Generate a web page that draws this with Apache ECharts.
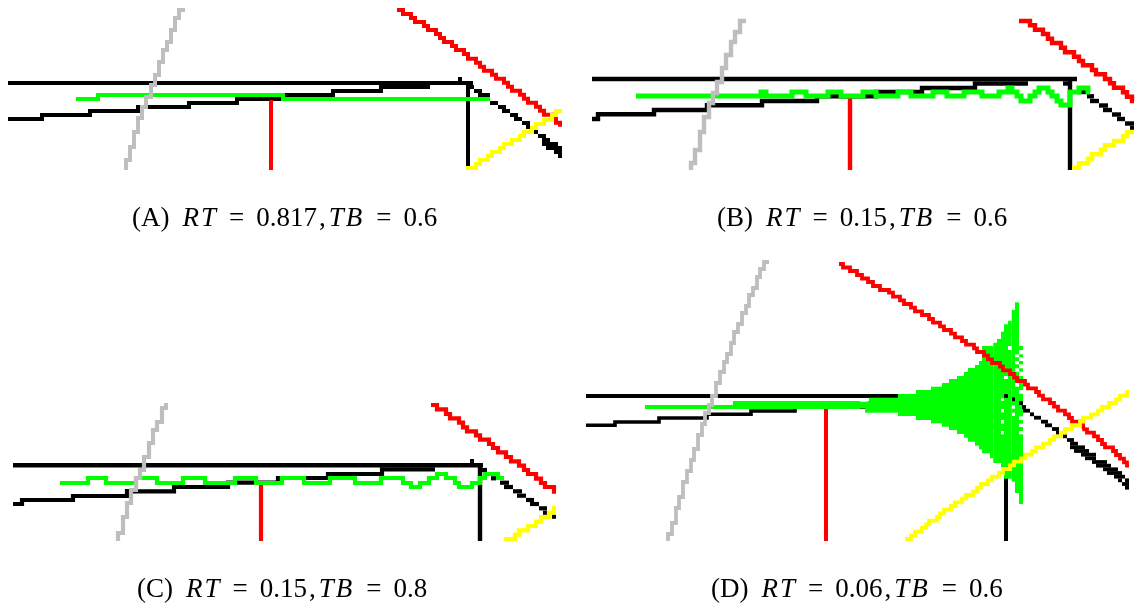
<!DOCTYPE html>
<html><head><meta charset="utf-8">
<style>html,body{margin:0;padding:0;background:#fff}#c{width:1136px;height:608px}</style>
<script src="https://cdn.jsdelivr.net/npm/echarts@6/dist/echarts.min.js"></script>
</head><body><div id="c"></div>
<script>
const labelsPlain = ['(A)', '(B)', '(C)', '(D)'];
const rtValues = ['0.817', '0.15', '0.15', '0.06'];
const tbValues = ['0.6', '0.6', '0.8', '0.6'];

// Panel A
const aTop = [[8,83],[473,83]];
const aStairs = [[8,119],[42,115],[90,111],[138,107],[189,103],[237,99],[283,95],[333,91],[381,87],[430,87]];
const aBump = [[458,462,77,81]];
const aVertBlack = [[468,83],[468,168]];
const aVertRed = [[271,100],[271,170]];
const aGreen = [[76,99],[98,95],[283,99],[490,99]];
const aRed = [[397,10],[403,14],[411,18],[415,22],[424,26],[428,30],[436,34],[440,38],[444,42],[452,46],[456,50],[464,54],[468,58.7],[476,62.7],[480,66.7],[484,70.7],[492,74.7],[496,78.7],[504,82.7],[508,86.7],[512,90.7],[520,94.7],[524,98.7],[528,102.7],[536,106.7],[540,110.7],[544,114.7],[552,118.7],[556,122.7],[560,126.7]];
const aYellow = [[466,168],[476,164],[480,160],[488,156],[492,152],[500,148],[504,144],[512,140],[520,136],[524,132],[532,128],[536,124],[544,120],[552,115],[556,111],[562,111]];
const aGray = [[126,170],[130,160],[134,147],[138,132],[142,118],[146,107],[151,97],[155,85],[159,75],[163,62],[167,50],[171,42],[175,30],[179,18],[185,10]];
const aDiag = [[468,474,87],[474,482,91],[478,490,95],[490,498,103],[498,506,107],[502,510,111],[510,518,115],[514,522,119],[522,530,123],[526,530,127],[534,538,132],[538,546,136],[542,550,140],[542,558,144],[546,562,148],[554,562,152],[558,562,156]];

// Panel B
const bTop = [[592,79],[1077,79]];
const bStairs = [[592,119],[598,114.3],[654,110],[707,105.3],[762,101],[817,96.3],[876,92],[922,88],[975,83.5],[1028,83.5]];
const bVertBlack = [[1070,79],[1070,170]];
const bVertRed = [[850,97],[850,170]];
const bGreen = [[636,96],[761,92],[766,96],[792,92],[806,96],[828,92],[841,96],[863,92],[876,96],[898,92],[911,96],[933,92],[947,96],[964,92],[982,96],[999,92],[1008,88],[1012,92],[1017,96],[1021,101],[1030,96],[1035,92],[1039,88],[1048,92],[1052,96],[1057,101],[1061,105],[1070,92],[1079,88],[1088,92],[1090,92]];
const bRed = [[1019,21],[1030,25.3],[1035,29.7],[1043,34],[1048,38.7],[1052,43],[1061,47.7],[1065,52.3],[1074,56.7],[1079,61],[1083,65.3],[1092,70],[1096,74.3],[1105,79],[1110,83.3],[1114,87.7],[1123,92.3],[1127,96.7],[1132,101],[1134,101]];
const bYellow = [[1072,167.7],[1079,163.3],[1088,158.7],[1092,154.3],[1101,149.7],[1105,145.3],[1114,141],[1123,136.3],[1127,132],[1134,132]];
const bGray = [[691,170],[695,163],[700,150],[704,132],[709,117],[713,103],[717,93],[722,82],[726,68],[731,55],[735,42],[740,32],[746,21]];
const bDiag = [[1063,1072,83.5],[1068,1072,88],[1077,1087,92],[1087,1094,96.3],[1090,1099,101],[1099,1108,105.5],[1103,1112,110],[1112,1121,114.5],[1117,1125,119],[1125,1134,123.5],[1130,1134,128]];

// Panel C
const cTop = [[13,465.3],[483,465.3]];
const cStairs = [[13,504],[22,500],[73,496],[127,491.3],[174,487],[228,482.7],[278,478],[328,474],[382,469.3],[435,469.3]];
const cBump = [[470,474,459,463],[125,129,489,494]];
const cVertBlack = [[480,465],[480,541]];
const cVertRed = [[261,485],[261,541]];
const cGreen = [[60,483],[88,478],[106,483],[136,478],[157,483],[183,478],[205,483],[235,478],[256,483],[282,478],[304,483],[330,478],[355,483],[381,478],[403,483],[411,487],[420,483],[429,478],[437,474],[446,478],[455,483],[459,487],[472,483],[480,478],[485,474],[498,478],[504,478]];
const cRed = [[431,405],[437,409.3],[446,414],[450,418.3],[459,422.7],[463,427.3],[467,431.3],[476,435.3],[480,439.7],[489,444],[493,448],[498,452.3],[506,457],[511,461.3],[519,465.7],[524,470],[528,474],[536,478.7],[541,483],[545,487],[554,491.7],[556,491.7]];
const cYellow = [[504,539],[515,534.7],[519,530.3],[528,526],[536,521.7],[541,517],[549,512.7],[554,508],[556,508]];
const cGray = [[118,541],[123,533],[127,517],[131,503],[136,490],[140,478],[144,470],[149,457],[153,443],[157,430],[162,422],[166,408],[168,405]];
const cDiag = [[478,487,470],[491,496,478.3],[500,509,482.7],[504,513,487],[513,522,491.3],[517,526,495.7],[526,534,500],[530,539,504],[539,547,508.3],[543,547,512.7],[552,556,516.7]];

// Panel D
const dTop = [[586,396],[905,396]];
const dStairs = [[586,425.3],[615,422],[659,418],[707,414.3],[751,411],[795,407],[870,403],[900,403]];
const dVertBlack = [[1006,396],[1006,541]];
const dVertRed = [[826,409],[826,541]];
const dGreenBands = [[645,733,405,409],[733,860,401,409],[860,865,401.7,408.3],[865,869,401.7,412.7],[869,898,397.7,412.7],[898,916,394,416],[916,931,390,420],[931,942,386.7,423.3],[942,949,383,426.7],[949,957,379,430],[957,964,376,434],[964,968,372,437.7],[968,975,368,441.7],[975,979,365,445.7],[979,982,361,449.3],[982,990,346,453.3],[990,993.3,346,458.3],[993.3,997,342.7,463],[997,1001,339,463],[1001,1004,331.7,467.7],[1004,1008,324.3,478.7],[1008,1011.7,320.7,478.7],[1011.7,1015,310,481.7],[1015,1019,302.3,493],[1019,1023,346,504]];
const dGreenHoles = [[1008,1011.7,346,350],[1015,1019,354.3,357.3],[1015,1019,361,364.3],[1015,1019,368.3,371.7],[1004,1008,376,379],[1015,1019,383,386.7],[1001,1004,398.3,401],[1012,1015,405.3,408.7],[1001,1004,409,412.3],[1012,1015,412.7,416],[1001,1004,420,423.7],[1001,1004,431,434.3],[1019,1023,350,354.3],[1019,1023,357.3,361],[1019,1023,364.3,368.3],[1019,1023,371.7,376],[1019,1023,390,393.7],[1019,1023,416.3,420],[1019,1023,423.7,427],[1019,1023,431,434.3]];
const dRed = [[839,264],[843,267.5],[850,271],[857,275],[862,278.5],[868,282],[873,286],[880,290],[889,292.7],[893,296.7],[900,300.3],[904,304],[911,307.7],[915,311.3],[922,315],[929,319],[933,322.7],[940,326.3],[944,330],[951,333.7],[955,337.3],[962,341],[966,344.7],[974,348.3],[977,352],[984,355.7],[988,359.3],[992,363],[1000,366.7],[1003,370.3],[1010,374],[1014,377.7],[1017,381],[1025,384.7],[1028,388.3],[1036,392],[1039,395.7],[1043,399.3],[1050,403],[1054,406.7],[1058,410.7],[1065,414.3],[1069,418],[1072,421.7],[1083,425.7],[1084,429.3],[1087,432.7],[1094,436.3],[1098,440],[1102,444],[1105,447.3],[1113,451],[1116,455],[1120,458.7],[1124,462.3],[1127,465.7],[1129,465.7]];
const dYellow = [[905,539],[911,535.3],[915,531.7],[922,528],[926,524.3],[929,520.7],[937,517],[940,513.3],[944,509.7],[951,506],[955,502.3],[962,498.7],[966,495],[973,491.3],[977,487.7],[981,484],[988,480.3],[992,476.7],[999,472.7],[1003,469],[1010,465.3],[1014,461.7],[1021,458.3],[1025,454.7],[1032,451],[1036,447.3],[1043,443.7],[1050,440],[1054,436.3],[1061,432.7],[1065,429],[1072,425.3],[1080,421.7],[1083,417.7],[1091,414.3],[1098,410.7],[1102,407],[1109,403],[1116,399.3],[1120,395.7],[1127,392],[1129,392]];
const dGray = [[668,541],[672,534],[676,523],[679,508],[683,497],[687,482],[691,471],[694,460],[698,449],[702,435],[705,424],[709,413],[712,405],[716,396],[720,383],[724,372],[727,362],[731,354],[734,343],[738,332],[742,324],[746,313],[749,306],[753,295],[757,288],[760,277],[764,269],[769,262]];
const dDiag = [[1004,1008,396],[1012,1015,399.3],[1019,1023,403],[1022,1026,407],[1023,1030,410.7],[1030,1034,414.3],[1034,1041,417.7],[1041,1048,421.7],[1045,1052,425.3],[1052,1059,429],[1056,1059,432.7],[1063,1067,436.3],[1067,1074,440],[1070,1078,443.7],[1070,1085,447.3],[1074,1089,451],[1081,1096,454.7],[1085,1096,458.3],[1092,1107,462],[1096,1111,465.7],[1103,1118,469.3],[1107,1122,473],[1114,1125,476.7],[1118,1122,480.3],[1125,1129,480.3],[1122,1129,484],[1125,1129,487.7]];

const GREEN='#00ff00', RED='#ff0000', YELLOW='#ffff00', GRAY='#bebebe', BLACK='#000000', WHITE='#ffffff';
const panels = [
  {x:[0,565],y:[0,180]},{x:[580,1136],y:[0,180]},{x:[0,565],y:[395,550]},{x:[580,1136],y:[255,550]}
];
const captionPos = [[132,219],[717,219],[137,590],[711,590]];

let zc = 2;
function line(p, data, color, w, step){
  return {type:'line', xAxisIndex:p, yAxisIndex:p, data:data, step:step||false, showSymbol:false, symbol:'none',
    silent:true, clip:false, animation:false, z:zc++, lineStyle:{color:color,width:w,cap:'butt',join:'miter'}};
}
function rects(p, data, color){
  return {type:'custom', xAxisIndex:p, yAxisIndex:p, data:data, silent:true, clip:false, animation:false, z:zc++,
    encode:{x:[0,1],y:[2,3]},
    renderItem:function(params, api){
      const a=api.coord([api.value(0),api.value(2)]), b=api.coord([api.value(1),api.value(3)]);
      return {type:'rect', shape:{x:a[0],y:a[1],width:b[0]-a[0],height:b[1]-a[1]}, style:{fill:color}};
    }};
}
function runs(list, h){ return list.map(r=>[r[0],r[1],r[2]-h,r[2]+h]); }

const series = [
  line(0,aTop,BLACK,4), line(0,aStairs,BLACK,4,'end'), line(0,aVertBlack,BLACK,4), rects(0,aBump,BLACK), rects(0,runs(aDiag,2),BLACK),
  line(0,aVertRed,RED,4), line(0,aRed,RED,4,'end'), line(0,aGreen,GREEN,4,'end'), line(0,aYellow,YELLOW,4,'end'), line(0,aGray,GRAY,4,'start'),

  line(1,bTop,BLACK,4.4), line(1,bStairs,BLACK,4.4,'end'), line(1,bVertBlack,BLACK,4.4), rects(1,runs(bDiag,2.2),BLACK),
  line(1,bVertRed,RED,4.4), line(1,bGreen,GREEN,5,'end'), line(1,bRed,RED,4.4,'end'), line(1,bYellow,YELLOW,4.4,'end'), line(1,bGray,GRAY,4.4,'start'),

  line(2,cTop,BLACK,4.4), line(2,cStairs,BLACK,4.2,'end'), line(2,cVertBlack,BLACK,4.4), rects(2,cBump,BLACK), rects(2,runs(cDiag,2.1),BLACK),
  line(2,cVertRed,RED,4.2), line(2,cGreen,GREEN,4.2,'end'), line(2,cRed,RED,4.2,'end'), line(2,cYellow,YELLOW,4.2,'end'), line(2,cGray,GRAY,4.2,'start'),

  line(3,dTop,BLACK,4), line(3,dStairs,BLACK,3.6,'end'), line(3,dVertBlack,BLACK,4),
  line(3,dVertRed,RED,4), rects(3,dGreenBands,GREEN), rects(3,dGreenHoles,WHITE), rects(3,runs(dDiag,1.9),BLACK),
  line(3,dRed,RED,3.8,'end'), line(3,dYellow,YELLOW,3.8,'end'), line(3,dGray,GRAY,3.8,'start')
];

const FS = 27;
const chart = echarts.init(document.getElementById('c'), null, {renderer:'canvas', width:1136, height:608});
const serif = 'Liberation Serif';
function seg(italic, right, left){
  return {fontFamily:serif, fontSize:FS, fontStyle:italic?'italic':'normal', color:'#000', lineHeight:30, padding:[0,right,0,left||0]};
}
chart.setOption({
  animation:false, backgroundColor:'#fff',
  grid: panels.map(p=>({left:p.x[0], top:p.y[0], width:p.x[1]-p.x[0], height:p.y[1]-p.y[0], containLabel:false, show:false})),
  xAxis: panels.map((p,i)=>({type:'value', gridIndex:i, min:p.x[0], max:p.x[1], show:false})),
  yAxis: panels.map((p,i)=>({type:'value', gridIndex:i, min:p.y[0], max:p.y[1], inverse:true, show:false})),
  tooltip:{show:false}, legend:{show:false},
  title: labelsPlain.map((lab,i)=>({
    left:captionPos[i][0], top:captionPos[i][1]-15, padding:0,
    text: '{p|'+lab+'}{r|R}{t|T}{e|=}{n|'+rtValues[i]+'}{c|,}{u|T}{b|B}{e|=}{n|'+tbValues[i]+'}',
    textStyle:{fontFamily:serif, fontSize:FS, fontWeight:'normal', color:'#000', lineHeight:30,
      rich:{p:seg(false,13), r:seg(true,2), t:seg(true,13), e:seg(false,12), n:seg(false,0), c:seg(false,3,2), u:seg(true,2), b:seg(true,14)}}
  })),
  series: series
});
</script></body></html>
